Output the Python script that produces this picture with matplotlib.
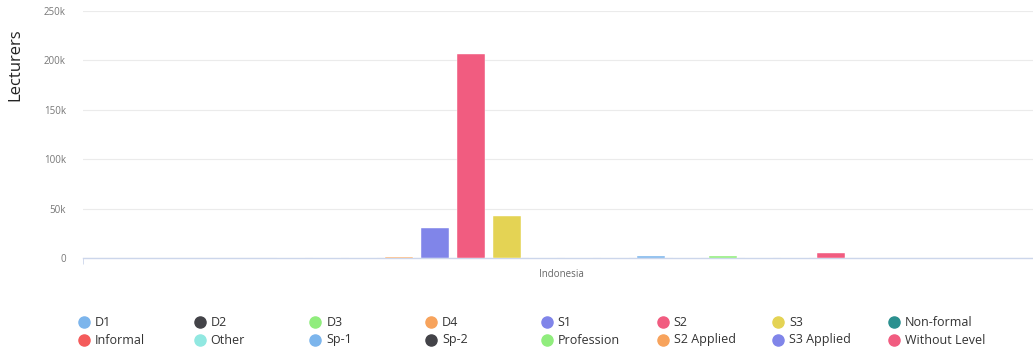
import matplotlib as mpl
import matplotlib.pyplot as plt
from matplotlib.lines import Line2D
from matplotlib.ticker import FuncFormatter

mpl.rcParams['font.family'] = ['Open Sans', 'DejaVu Sans']

# Data
category = "Indonesia"
levels = ["D1", "D2", "D3", "D4", "S1", "S2", "S3", "Non-formal",
          "Informal", "Other", "Sp-1", "Sp-2", "Profession",
          "S2 Applied", "S3 Applied", "Without Level"]
lecturers = [0, 0, 0, 1500, 30000, 206500, 42500, 0,
             0, 0, 2200, 0, 2000, 0, 0, 5200]

# Highcharts default palette, repeating
palette = ["#7cb5ec", "#434348", "#90ed7d", "#f7a35c", "#8085e9",
           "#f15c80", "#e4d354", "#2b908f", "#f45b5b", "#91e8e1"]
colors = [palette[i % len(palette)] for i in range(len(levels))]

fig = plt.figure(figsize=(10.33, 3.51), dpi=100)
# plot area runs a little past the right edge of the picture
ax = fig.add_axes([0.080, 0.265, 0.927, 0.704])

n = len(levels)
pitch = 0.0376
width = 0.0292
for i, (lvl, v) in enumerate(zip(levels, lecturers)):
    x = (i - (n - 1) / 2) * pitch
    ax.bar(x, v, width=width, color=colors[i], edgecolor="white",
           linewidth=0.3, zorder=3)

ax.set_xlim(-0.5, 0.5)
ax.set_ylim(0, 250000)
ax.set_yticks(range(0, 250001, 50000))
ax.yaxis.set_major_formatter(FuncFormatter(
    lambda v, p: "0" if v == 0 else f"{int(v / 1000)}k"))
ax.set_xticks([0])
ax.set_xticklabels([category])
ax.set_xticks([-0.5, 0.5], minor=True)

ax.grid(axis="y", color="#ebebeb", linewidth=0.8, zorder=0)
for s in ["top", "right", "left"]:
    ax.spines[s].set_visible(False)
ax.spines["bottom"].set_color("#ccd6eb")
ax.spines["bottom"].set_linewidth(1.0)

ax.tick_params(axis="y", length=0, labelsize=7, labelcolor="#777777", pad=12)
ax.tick_params(axis="x", which="major", length=0, labelsize=7,
               labelcolor="#666666", pad=8)
ax.tick_params(axis="x", which="minor", length=4, color="#ccd6eb")

fig.text(15 / 1033, 1 - 65 / 351, "Lecturers", rotation=90, ha="center",
         va="center", fontsize=12, color="#222222")

# Legend: 2 rows x 8 columns
for i, lvl in enumerate(levels):
    row, col = divmod(i, 8)
    mx = (84 + col * 115.7) / 1033
    my = 1 - (322 + row * 18) / 351
    fig.add_artist(Line2D([mx], [my], marker="o", markersize=8,
                          color=colors[i], linestyle="none",
                          transform=fig.transFigure))
    fig.text(mx + 11 / 1033, my, lvl, ha="left", va="center",
             fontsize=9, color="#333333")

fig.savefig("out.png", dpi=100)
